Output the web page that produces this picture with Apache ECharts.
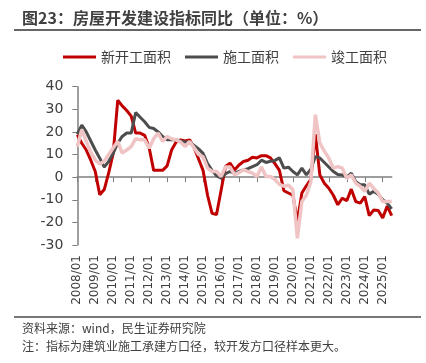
<!DOCTYPE html>
<html><head><meta charset="utf-8">
<script src="https://cdn.jsdelivr.net/npm/echarts@6/dist/echarts.min.js"></script>
<style>html,body{margin:0;padding:0;background:#fff}#c{width:426px;height:363px}</style>
</head><body><div id="c"></div>
<script>
// quarterly categories 2008/01 .. 2025/07
var years = [2008,2009,2010,2011,2012,2013,2014,2015,2016,2017,2018,2019,2020,2021,2022,2023,2024,2025];
var months = ['01','04','07','10'];
var categories = [];
years.forEach(function(y){ months.forEach(function(m){ if(!(y===2025 && m==='10')) categories.push(y+'/'+m); }); });

var seriesNames = ['新开工面积','施工面积','竣工面积'];
var newStart = [18.7,15,12,7.5,2.5,-7.8,-5.5,2,10.6,34,31.5,29.5,27,19.5,19.5,18.5,13,3,3,3,5,12,15.5,16.5,16,16.5,13,8,3,-8,-16,-16.5,-6,4.7,6.2,3.2,5.4,6.9,7.5,8.8,8.5,9.5,9.5,8.5,6,3,-6,-7,-8,-19.5,-7,-3.8,-1,19,1,-2.7,-4.9,-8,-12.2,-9.3,-10.4,-5.3,-10.8,-11.5,-8.6,-17,-14.5,-14.7,-18,-12.8,-17];
var underConstruction = [19,23,20,16,12,8.4,4.4,7,10.6,15,18,19.5,19.5,28.6,26.5,24.5,22,21.5,20,18,16.5,16.5,16.5,16,15.5,15.5,14,12.5,10.5,6,3,0.6,-0.5,1.5,2.5,1.8,2.5,3.2,3.8,4.7,5.5,7.5,6.5,7,7.4,8.5,4,4.4,2.5,1,4,1,3.5,9.1,8.5,6.5,4.5,2.5,1.2,1,0,1.8,-2,-3.4,-3.4,-7.5,-6.3,-7.5,-10,-11.5,-14];
var completed = [13.5,21,15.8,11,7.6,5.8,7,10,13,15.8,10.6,12,13.5,17,16.5,16.5,12.8,17,19.5,15.8,18,17,16.5,15.5,13.5,15.8,13,10,9,4,2.5,2.5,0.3,4.5,4.5,1,2,3.3,2.5,1.8,0.3,4.5,0.3,0.3,-1,-3.2,-4,-3.5,-5.6,-27,-10.8,-8,-2,27.6,15,11.5,8.4,4,4.7,4,-0.5,1,-2.7,-4.1,-6.3,-2.7,-5,-7,-10.8,-10.8,-10.8];
var yTicks = {min:-30, max:40, interval:10};

var colors = ['#C00000','#4D4D4D','#F0C4C4'];
var font = 'DejaVu Sans';
var cjk = '"Noto Sans CJK SC", sans-serif';

var chart = echarts.init(document.getElementById('c'));
chart.setOption({
  animation:false,
  color: colors,
  grid:{left:77.3, right:34.3, top:86.7, bottom:118, containLabel:false},
  legend:{
    left:58, top:45, itemWidth:33, itemHeight:3, itemGap:14, icon:'rect',
    textStyle:{fontFamily:cjk, fontSize:14, color:'#404040'},
    data:seriesNames
  },
  xAxis:[{
    type:'category', data:categories, boundaryGap:false, position:'bottom',
    axisLine:{show:false, onZero:false}, axisTick:{show:false},
    axisLabel:{interval:3, rotate:90, margin:10, fontFamily:font, fontSize:12, color:'#404040'}
  },{
    type:'category', data:categories, boundaryGap:false, position:'bottom',
    axisLine:{show:true, onZero:true, lineStyle:{color:'#7f7f7f', width:1.5}},
    axisTick:{show:true, interval:3, length:5, lineStyle:{color:'#7f7f7f'}},
    axisLabel:{show:false}
  }],
  yAxis:{
    type:'value', min:yTicks.min, max:yTicks.max, interval:yTicks.interval,
    axisLine:{show:true, lineStyle:{color:'#7f7f7f', width:1.5}},
    axisTick:{show:true, length:5, lineStyle:{color:'#7f7f7f'}},
    splitLine:{show:false},
    axisLabel:{margin:14, fontFamily:font, fontSize:14, color:'#404040'}
  },
  series:[
    {name:seriesNames[0], type:'line', data:newStart, symbol:'none', lineStyle:{width:3, color:colors[0]}},
    {name:seriesNames[1], type:'line', data:underConstruction, symbol:'none', lineStyle:{width:3, color:colors[1]}},
    {name:seriesNames[2], type:'line', data:completed, symbol:'none', lineStyle:{width:3.5, color:colors[2]}}
  ],
  graphic:[
    {type:'text', left:22, top:10, style:{text:'图23：房屋开发建设指标同比（单位：%）', font:'bold 16px '+cjk, fill:'#404040'}},
    {type:'rect', shape:{x:14, y:29, width:407, height:2}, style:{fill:'#666'}},
    {type:'rect', shape:{x:14, y:316, width:407, height:2}, style:{fill:'#777'}},
    {type:'text', left:22, top:322, style:{text:'资料来源：wind，民生证券研究院', font:'12px '+cjk, fill:'#404040'}},
    {type:'text', left:22, top:340, style:{text:'注：指标为建筑业施工承建方口径，较开发方口径样本更大。', font:'12px '+cjk, fill:'#404040'}}
  ]
});
</script></body></html>
